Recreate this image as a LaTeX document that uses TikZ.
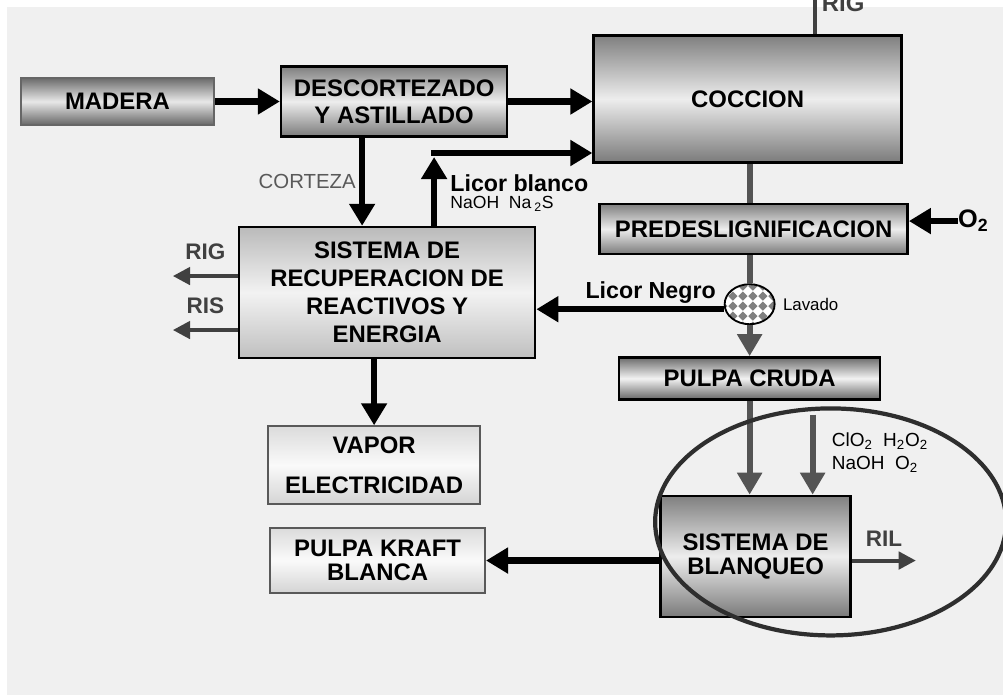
\documentclass[tikz,border=0pt]{standalone}
\usepackage{fontspec}
\setmainfont{Liberation Sans}
\usetikzlibrary{positioning,shapes.geometric,arrows.meta,patterns}

\pgfdeclarepatternformonly{washgrid}{\pgfpointorigin}{\pgfqpoint{7pt}{7pt}}{\pgfqpoint{7pt}{7pt}}{%
  \pgfpathmoveto{\pgfqpoint{3.5pt}{0.2pt}}
  \pgfpathlineto{\pgfqpoint{6.8pt}{3.5pt}}
  \pgfpathlineto{\pgfqpoint{3.5pt}{6.8pt}}
  \pgfpathlineto{\pgfqpoint{0.2pt}{3.5pt}}
  \pgfpathclose\pgfusepath{fill}}

\tikzstyle{procbox} = [
    rectangle,                 % Shape
    draw=black,                % Border color
    line width=1.8pt,          % Heavy border
    align=center,              % Centered lines
    inner sep=0pt,
    font=\bfseries\fontsize{17}{20}\selectfont
]
\tikzstyle{darkbox} = [procbox, top color=black!50, bottom color=black!52, middle color=black!7]
\tikzstyle{recbox} = [procbox, top color=black!27, bottom color=black!25, middle color=black!5]
\tikzstyle{lightbox} = [procbox, draw=black!65, line width=1.3pt, top color=black!14, bottom color=black!17, middle color=black!2]
\tikzstyle{washer} = [ellipse, draw=black, line width=1.3pt, preaction={fill=white}, pattern=washgrid, pattern color=black!50]
\tikzstyle{ring} = [ellipse, draw=black!82, line width=3pt]
\tikzstyle{arrow} = [line width=0.16cm, -{Triangle[length=0.55cm, width=0.62cm]}]
\tikzstyle{feed} = [line width=0.15cm, draw=black!67]
\tikzstyle{feedarrow} = [feed, -{Triangle[length=0.55cm, width=0.6cm]}]
\tikzstyle{resline} = [line width=0.1cm, draw=black!75]
\tikzstyle{resarrow} = [resline, -{Triangle[length=0.43cm, width=0.43cm]}]
\tikzstyle{lbl} = [inner sep=0pt, font=\bfseries\fontsize{16.5}{18}\selectfont]
\tikzstyle{chem} = [inner sep=0pt, font=\fontsize{13.5}{15}\selectfont]
\tikzstyle{reslbl} = [inner sep=0pt, text=black!75, font=\bfseries\fontsize{16}{18}\selectfont]
\tikzstyle{sublbl} = [inner sep=0pt, text=black!65, font=\fontsize{14.5}{16}\selectfont]

\begin{document}
\begin{tikzpicture}
  \useasboundingbox (0,0) rectangle (25.075,-17.375);
  \clip (0,0) rectangle (25.075,-17.375);
  \fill[black!6] (0.175,-0.175) rectangle (25.075,-17.375);

  % Fibre line
  \node[darkbox, draw=black!60, line width=1.2pt, top color=black!58, bottom color=black!60, middle color=black!9,
        minimum width=4.825cm, minimum height=1.175cm] (madera) at (2.9375,-2.5375) {MADERA};
  \node[darkbox, minimum width=5.65cm, minimum height=1.75cm, right=1.625cm of madera,
        font=\bfseries\fontsize{17}{19}\selectfont] (desc) {DESCORTEZADO\\Y ASTILLADO};
  \node[darkbox, minimum width=7.7cm, minimum height=3.175cm, right=2.1cm of desc, yshift=0.0625cm] (coccion) {COCCION};
  \node[darkbox, minimum width=7.7cm, minimum height=1.25cm, below=0.975cm of coccion, xshift=0.15cm] (predes) {PREDESLIGNIFICACION};
  \node[washer, minimum width=1.25cm, minimum height=1cm, below=0.7cm of predes, xshift=-0.1cm] (lavado) {};
  \node[darkbox, top color=black!58, bottom color=black!60, middle color=black!5, minimum width=6.525cm, minimum height=1.05cm, below=0.775cm of lavado] (cruda) {PULPA CRUDA};
  \node[darkbox, minimum width=4.75cm, minimum height=3.025cm, below=2.35cm of cruda, xshift=0.15cm,
        font=\bfseries\fontsize{17}{17.5}\selectfont] (blanqueo) {SISTEMA DE\\BLANQUEO};

  % Recovery side
  \node[recbox, minimum width=7.4cm, minimum height=3.275cm, below=2.2cm of desc, xshift=-0.175cm] (recup)
       {SISTEMA DE\\RECUPERACION DE\\REACTIVOS Y\\ENERGIA};
  \node[lightbox, minimum width=5.3cm, minimum height=1.95cm, below=1.65cm of recup, xshift=-0.325cm] (vapor)
       {VAPOR\\[8pt]ELECTRICIDAD};
  \node[lightbox, minimum width=5.375cm, minimum height=1.625cm, below=0.55cm of vapor, xshift=0.0875cm,
        font=\bfseries\fontsize{17}{17.5}\selectfont] (kraft) {PULPA KRAFT\\BLANCA};

  % Arrows
  \draw[arrow] (madera.east) -- (desc.west);
  \draw[arrow] (desc.east) -- (desc.east -| coccion.west);

  \coordinate (cortfoot) at ([xshift=-0.8cm]desc.south);
  \draw[arrow] (cortfoot) -- (cortfoot |- recup.north) node[midway, left=0.08cm, sublbl] {CORTEZA};

  \coordinate (lbfoot) at ([xshift=1.175cm]recup.north);
  \coordinate (lbin) at ([yshift=-1.35cm]coccion.west);
  \coordinate (lbturn) at (lbfoot |- lbin);
  \draw[arrow] (lbfoot) -- ([yshift=-0.1cm]lbturn);
  \draw[arrow] ([xshift=-0.08cm]lbturn) -- (lbin);
  \node[lbl, anchor=west] (lbtext) at ([shift={(0.4cm,1.075cm)}]lbfoot) {Licor blanco};
  \node[chem, font=\fontsize{12.5}{14}\selectfont, anchor=west] (lbchem) at ([shift={(0.4cm,0.55cm)}]lbfoot) {NaOH\ \ Na\,\textsubscript{2}S};

  \draw[resarrow] ([yshift=0.4125cm]recup.west) -- ++(-1.625,0) node[midway, above=0.36cm, reslbl] {RIG};
  \draw[resarrow] ([yshift=-0.9375cm]recup.west) -- ++(-1.625,0) node[midway, above=0.36cm, reslbl] {RIS};
  \draw[arrow] (vapor.north |- recup.south) -- (vapor.north);

  \coordinate (lnout) at ([yshift=-0.125cm]lavado.west);
  \draw[arrow] (lnout) -- (lnout -| recup.east) node[pos=0.39, above=0.06cm, lbl] {Licor Negro};
  \node[chem, font=\fontsize{12}{13}\selectfont, right=0.18cm of lavado] (lavtext) {Lavado};

  \draw[feed] (lavado.north |- coccion.south) -- (lavado.north |- predes.north);
  \draw[feed] (lavado.north |- predes.south) -- (lavado.north);
  \draw[feedarrow] (lavado.south) -- (lavado.south |- cruda.north);
  \draw[feedarrow] (cruda.south) -- (cruda.south |- blanqueo.north);

  \node[lbl, font=\bfseries\fontsize{18}{20}\selectfont, anchor=west] (otwo) at ([shift={(1.225cm,0.2cm)}]predes.east) {O\textsubscript{2}};
  \draw[arrow] (otwo.west) -- (otwo.west -| predes.east);

  \coordinate (chemin) at ([xshift=1.425cm]blanqueo.north);
  \draw[feedarrow] ([yshift=2cm]chemin) -- (chemin);
  \node[chem, anchor=west] (bleach1) at ([shift={(0.475cm,1.35cm)}]chemin) {ClO\textsubscript{2}\ \ H\textsubscript{2}O\textsubscript{2}};
  \node[chem, anchor=west] (bleach2) at ([shift={(0.475cm,0.75cm)}]chemin) {NaOH\ \ O\textsubscript{2}};

  \draw[arrow] (blanqueo.west |- kraft.east) -- (kraft.east);
  \draw[resarrow] (blanqueo.east |- kraft.east) -- ++(1.6,0) node[midway, above=0.3cm, reslbl] {RIL};

  \draw[resline] ([xshift=1.675cm]coccion.north) -- ++(0,1.2);
  \node[reslbl, font=\bfseries\fontsize{17}{19}\selectfont, anchor=base west] (rigtop) at ([shift={(1.85cm,0.575cm)}]coccion.north) {RIG};

  % Bleaching zone
  \node[ring, minimum width=8.775cm, minimum height=5.675cm] (zona) at ([shift={(1.875cm,0.8625cm)}]blanqueo.center) {};
\end{tikzpicture}
\end{document}
